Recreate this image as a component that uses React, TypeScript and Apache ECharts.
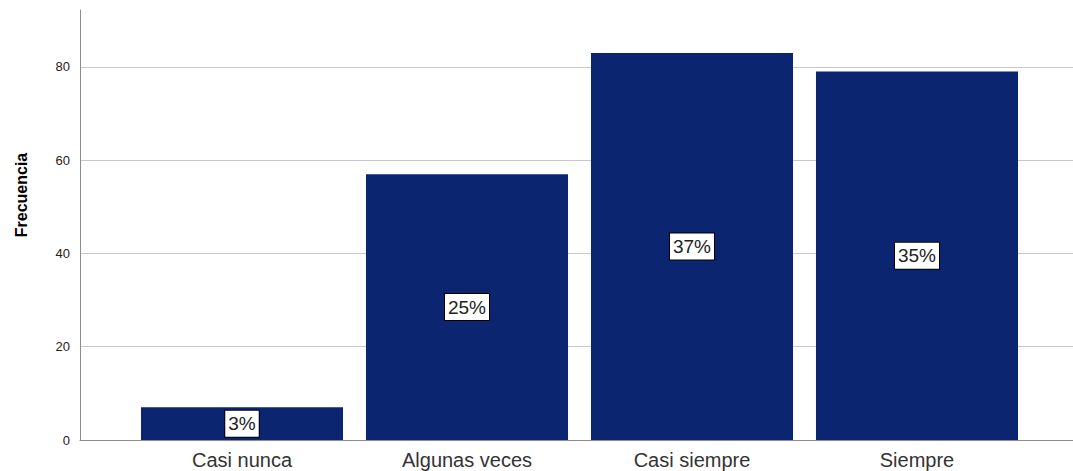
import React, { useEffect, useRef } from "react";
import * as echarts from "echarts";

const categories = ["Casi nunca", "Algunas veces", "Casi siempre", "Siempre"];
const frequencies = [7, 57, 83, 79];
const yTicks = { min: 0, max: 80, interval: 20 };
const yAxisTop = 92.2;
const yTitle = "Frecuencia";

const FONT = "'Liberation Sans', Arial, sans-serif";
const BAR_COLOR = "#0b2571";

export default function App() {
  const ref = useRef<HTMLDivElement>(null);
  useEffect(() => {
    if (!ref.current) return;
    const chart = echarts.init(ref.current, undefined, { renderer: "svg" });
    const total = frequencies.reduce((a, b) => a + b, 0);
    const bottom = 31;
    const plotH = 471 - bottom - 10;
    const gridTopTicks = 471 - bottom - (plotH * yTicks.max) / yAxisTop;
    chart.setOption({
      animation: false,
      textStyle: { fontFamily: FONT },
      grid: [
        { left: 80, right: 0, top: 10, bottom },
        { left: 80, right: 0, top: gridTopTicks, bottom },
        { left: 129.5, right: 43.5, top: 10, bottom },
      ],
      xAxis: [
        {
          gridIndex: 0,
          type: "value",
          min: 0,
          max: 1,
          axisLine: { show: true, lineStyle: { color: "#8c8c8c", width: 1 } },
          axisTick: { show: false },
          axisLabel: { show: false },
          splitLine: { show: false },
        },
        {
          gridIndex: 1,
          type: "value",
          min: 0,
          max: 1,
          show: false,
        },
        {
          gridIndex: 2,
          type: "category",
          data: categories,
          axisLine: { show: false },
          axisTick: { show: false },
          axisLabel: { color: "#333", fontSize: 20, margin: 10, fontFamily: FONT },
        },
      ],
      yAxis: [
        {
          gridIndex: 0,
          type: "value",
          min: 0,
          max: yAxisTop,
          axisLine: { show: true, lineStyle: { color: "#8c8c8c", width: 1 } },
          axisTick: { show: false },
          axisLabel: { show: false },
          splitLine: { show: false },
        },
        {
          gridIndex: 1,
          type: "value",
          min: yTicks.min,
          max: yTicks.max,
          interval: yTicks.interval,
          axisLine: { show: false },
          axisTick: { show: false },
          axisLabel: { color: "#222", fontSize: 13, margin: 10, fontFamily: FONT },
          splitLine: { show: true, lineStyle: { color: "#c8c8c8", width: 1 } },
        },
        {
          gridIndex: 2,
          type: "value",
          min: 0,
          max: yAxisTop,
          show: false,
        },
      ],
      graphic: [
        {
          type: "text",
          x: 21,
          y: 195,
          rotation: Math.PI / 2,
          style: {
            text: yTitle,
            fontSize: 16,
            fontWeight: "bold",
            fontFamily: FONT,
            fill: "#000",
            textAlign: "center",
            textVerticalAlign: "middle",
          },
        },
      ],
      series: [
        {
          type: "bar",
          xAxisIndex: 2,
          yAxisIndex: 2,
          data: frequencies,
          barCategoryGap: "10.2%",
          itemStyle: { color: BAR_COLOR },
          label: {
            show: true,
            position: "inside",
            formatter: (p: any) => Math.round((p.value / total) * 100) + "%",
            color: "#222",
            fontSize: 19,
            fontFamily: FONT,
            backgroundColor: "#fff",
            borderColor: "#000",
            borderWidth: 1,
            padding: [4, 3, 3, 3],
          },
        },
      ],
    });
    return () => chart.dispose();
  }, []);
  return (
    <div
      ref={ref}
      style={{ position: "fixed", left: 0, top: 0, width: 1073, height: 471, background: "#fff" }}
    />
  );
}
